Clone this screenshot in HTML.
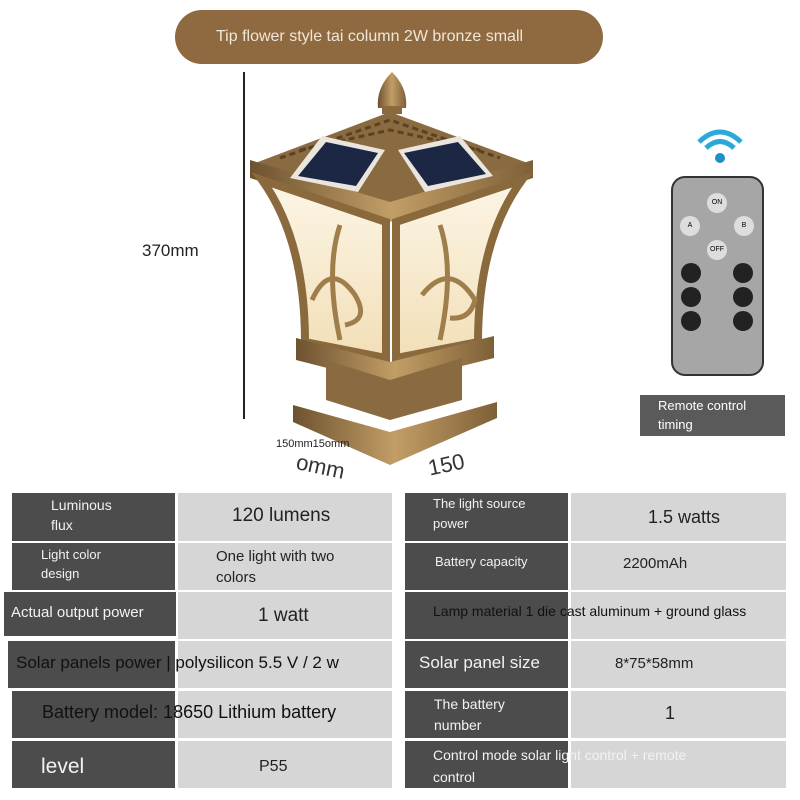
<!DOCTYPE html>
<html><head><meta charset="utf-8"><style>
body{margin:0;width:800px;height:800px;background:#fff;position:relative;overflow:hidden;font-family:"Liberation Sans",sans-serif}
.a{position:absolute;box-sizing:border-box}
.L{background:#4c4c4c;color:#f2f2f2}
.V{background:#d6d6d6;color:#222}
.t{position:absolute;white-space:nowrap}
</style></head><body>
<div class="a" style="left:175px;top:10px;width:428px;height:54px;border-radius:27px;background:#8f6a40;color:#f0e6d8;font-size:16px;line-height:54px;padding-left:41px">Tip flower style tai column 2W bronze small</div>
<div class="a" style="left:243px;top:72px;width:2px;height:347px;background:#222"></div>
<div class="t" style="left:142px;top:241px;font-size:17px;color:#222">370mm</div>

<svg class="a" style="left:0;top:0" width="800" height="480" viewBox="0 0 800 480">
<defs><linearGradient id="br" x1="0" x2="1"><stop offset="0" stop-color="#6e5230"/><stop offset=".5" stop-color="#c29e66"/><stop offset="1" stop-color="#7e6038"/></linearGradient>
<linearGradient id="gl" x1="0" x2="0" y1="0" y2="1"><stop offset="0" stop-color="#fcf5e6"/><stop offset="1" stop-color="#f2dfb8"/></linearGradient></defs>
<path d="M392 72 Q376 88 378 108 L406 108 Q408 88 392 72Z" fill="url(#br)"/>
<rect x="382" y="106" width="20" height="8" fill="#8a6a3c"/>
<polygon points="390,112 250,165 390,205 533,165" fill="#8a6a40"/>
<path d="M300 150 L390 130 L480 150 M280 158 L390 120 L500 158" stroke="#5a4222" stroke-width="3" fill="none" stroke-dasharray="6 4"/>
<polygon points="250,160 390,202 533,160 533,178 390,222 250,178" fill="url(#br)"/>
<polygon points="290,178 322,136 385,150 358,192" fill="#eae6de"/><polygon points="298,176 326,142 378,153 356,186" fill="#1c2744"/>
<polygon points="398,150 460,136 493,176 425,192" fill="#eae6de"/><polygon points="404,153 458,142 486,174 428,186" fill="#1c2744"/>
<path d="M262 180 L386 222 L386 358 L305 342 Q305 240 262 180Z" fill="url(#gl)" stroke="#8a6a3c" stroke-width="8"/>
<path d="M396 222 L522 180 Q478 240 478 342 L396 358Z" fill="url(#gl)" stroke="#8a6a3c" stroke-width="8"/>
<path d="M340 225 Q325 270 340 340 M440 225 Q455 270 440 340 M312 300 Q330 260 355 295 Q370 320 345 325 M422 295 Q450 260 475 300 Q470 320 450 318" stroke="#a07e4c" stroke-width="5" fill="none"/>
<polygon points="296,338 390,362 494,336 494,358 390,384 296,360" fill="url(#br)"/>
<polygon points="326,360 390,380 462,358 462,400 390,420 326,400" fill="#8a6a40"/>
<polygon points="293,405 390,432 497,402 497,418 390,465 293,422" fill="url(#br)"/>
</svg>
<div class="t" style="left:276px;top:438px;font-size:11px;color:#222">150mm15omm</div>
<div class="t" style="left:296px;top:454px;font-size:22px;color:#333;transform:rotate(12deg)">omm</div>
<div class="t" style="left:428px;top:452px;font-size:22px;color:#333;transform:rotate(-12deg)">150</div>

<svg class="a" style="left:695px;top:126px" width="50" height="40" viewBox="0 0 50 40">
<path d="M4 16 Q25 -4 46 16" stroke="#2aa8d8" stroke-width="5" fill="none"/>
<path d="M11 22 Q25 9 39 22" stroke="#2aa8d8" stroke-width="5" fill="none"/>
<circle cx="25" cy="32" r="5" fill="#1f8fc8"/></svg>
<div class="a" style="left:671px;top:176px;width:93px;height:200px;border-radius:14px;background:#a6a6a6;border:2px solid #333"></div>
<div class="a" style="left:707px;top:193px;width:20px;height:20px;border-radius:50%;background:#ddd;font-size:7px;text-align:center;line-height:20px">ON</div>
<div class="a" style="left:680px;top:216px;width:20px;height:20px;border-radius:50%;background:#ddd;font-size:7px;text-align:center;line-height:20px">A</div>
<div class="a" style="left:734px;top:216px;width:20px;height:20px;border-radius:50%;background:#ddd;font-size:7px;text-align:center;line-height:20px">B</div>
<div class="a" style="left:707px;top:240px;width:20px;height:20px;border-radius:50%;background:#ddd;font-size:7px;text-align:center;line-height:20px">OFF</div>
<div class="a" style="left:681px;top:263px;width:20px;height:20px;border-radius:50%;background:#222"></div>
<div class="a" style="left:733px;top:263px;width:20px;height:20px;border-radius:50%;background:#222"></div>
<div class="a" style="left:681px;top:287px;width:20px;height:20px;border-radius:50%;background:#222"></div>
<div class="a" style="left:733px;top:287px;width:20px;height:20px;border-radius:50%;background:#222"></div>
<div class="a" style="left:681px;top:311px;width:20px;height:20px;border-radius:50%;background:#222"></div>
<div class="a" style="left:733px;top:311px;width:20px;height:20px;border-radius:50%;background:#222"></div>
<div class="a" style="left:640px;top:395px;width:145px;height:41px;background:#5a5a5a;color:#fff;font-size:13px;line-height:19px;padding:1px 0 0 18px">Remote control<br>timing</div>

<div class="a L" style="left:12px;top:493px;width:163px;height:48px;font-size:14px;line-height:20px;padding:2px 0 0 39px">Luminous<br>flux</div>
<div class="a V" style="left:178px;top:493px;width:214px;height:48px;font-size:19px;line-height:46px;padding-left:54px">120 lumens</div>
<div class="a L" style="left:12px;top:543px;width:163px;height:47px;font-size:13px;line-height:19px;padding:2px 0 0 29px">Light color<br>design</div>
<div class="a V" style="left:178px;top:543px;width:214px;height:47px;font-size:15px;line-height:21px;padding:3px 0 0 38px">One light with two<br>colors</div>
<div class="a L" style="left:4px;top:592px;width:172px;height:44px;font-size:15px;line-height:42px;padding-left:7px">Actual output power</div>
<div class="a V" style="left:178px;top:592px;width:214px;height:47px;font-size:19px;line-height:48px;padding-left:80px">1 watt</div>
<div class="a L" style="left:8px;top:641px;width:167px;height:47px"></div>
<div class="a V" style="left:178px;top:641px;width:214px;height:47px"></div>
<div class="t" style="left:16px;top:653px;font-size:17px;color:#111">Solar panels power | polysilicon 5.5 V / 2 w</div>
<div class="a L" style="left:12px;top:691px;width:163px;height:47px"></div>
<div class="a V" style="left:178px;top:691px;width:214px;height:47px"></div>
<div class="t" style="left:42px;top:702px;font-size:18px;color:#111">Battery model: 18650 Lithium battery</div>
<div class="a L" style="left:12px;top:741px;width:163px;height:47px;font-size:21px;line-height:52px;padding-left:29px">level</div>
<div class="a V" style="left:178px;top:741px;width:214px;height:47px;font-size:16px;line-height:52px;padding-left:81px">P55</div>

<div class="a L" style="left:405px;top:493px;width:163px;height:48px;font-size:13px;line-height:20px;padding:1px 0 0 28px">The light source<br>power</div>
<div class="a V" style="left:571px;top:493px;width:215px;height:48px;font-size:18px;line-height:48px;padding-left:77px">1.5 watts</div>
<div class="a L" style="left:405px;top:543px;width:163px;height:47px;font-size:13px;line-height:38px;padding-left:30px">Battery capacity</div>
<div class="a V" style="left:571px;top:543px;width:215px;height:47px;font-size:15px;line-height:42px;padding-left:52px">2200mAh</div>
<div class="a L" style="left:405px;top:592px;width:163px;height:47px"></div>
<div class="a V" style="left:571px;top:592px;width:215px;height:47px"></div>
<div class="t" style="left:433px;top:603px;font-size:14px;color:#111">Lamp material 1 die cast aluminum + ground glass</div>
<div class="a L" style="left:405px;top:641px;width:163px;height:47px;font-size:17px;line-height:44px;padding-left:14px">Solar panel size</div>
<div class="a V" style="left:571px;top:641px;width:215px;height:47px;font-size:15px;line-height:46px;padding-left:44px">8*75*58mm</div>
<div class="a L" style="left:405px;top:691px;width:163px;height:47px;font-size:14px;line-height:21px;padding:3px 0 0 29px">The battery<br>number</div>
<div class="a V" style="left:571px;top:691px;width:215px;height:47px;font-size:18px;line-height:44px;padding-left:94px">1</div>
<div class="a L" style="left:405px;top:741px;width:163px;height:47px"></div>
<div class="a V" style="left:571px;top:741px;width:215px;height:47px"></div>
<div class="t" style="left:433px;top:744px;font-size:14px;line-height:22px;color:#f2f2f2">Control mode solar light control + remote<br>control</div>
</body></html>
